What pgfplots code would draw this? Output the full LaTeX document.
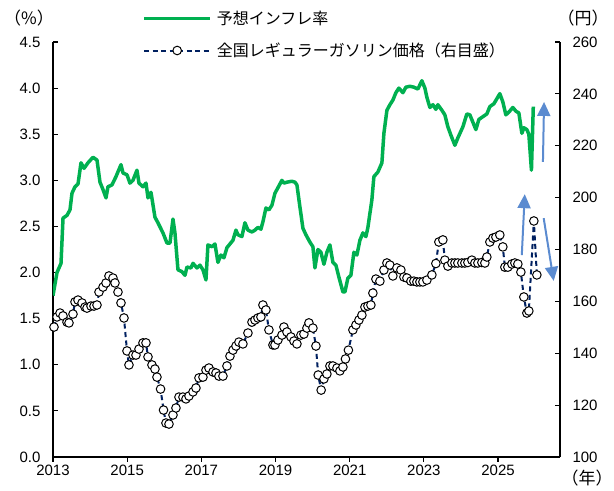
\documentclass[border=0pt]{standalone}
\usepackage{fontspec}
\setmainfont{Liberation Sans}
\newfontfamily\jp{Noto Sans CJK JP}
\usepackage{pgfplots}
\pgfplotsset{compat=1.18}
\usetikzlibrary{arrows.meta}

\definecolor{infl}{HTML}{00B050}
\definecolor{gas}{HTML}{002060}
\definecolor{arr}{HTML}{5B8BD0}

% expected inflation (%), left axis
\pgfplotstableread{
x y
2013.000 1.75
2013.108 2.00
2013.216 2.10
2013.270 2.59
2013.377 2.62
2013.458 2.68
2013.512 2.86
2013.593 2.93
2013.674 2.96
2013.755 3.19
2013.836 3.13
2013.943 3.19
2014.078 3.25
2014.186 3.22
2014.267 2.98
2014.348 2.90
2014.429 2.81
2014.482 2.93
2014.590 2.95
2014.698 3.04
2014.833 3.17
2014.887 3.08
2014.995 3.06
2015.075 2.97
2015.156 3.00
2015.264 3.11
2015.318 2.97
2015.426 2.93
2015.507 2.97
2015.561 2.81
2015.642 2.87
2015.749 2.60
2015.830 2.54
2015.965 2.43
2016.073 2.32
2016.154 2.32
2016.235 2.58
2016.288 2.43
2016.369 2.03
2016.477 2.01
2016.558 1.97
2016.612 2.06
2016.720 2.05
2016.774 2.10
2016.881 2.05
2016.962 2.08
2017.043 2.03
2017.124 1.92
2017.178 2.30
2017.286 2.28
2017.367 2.31
2017.447 2.11
2017.528 2.19
2017.609 2.16
2017.690 2.27
2017.771 2.31
2017.852 2.35
2017.933 2.46
2017.986 2.41
2018.094 2.39
2018.175 2.54
2018.256 2.46
2018.364 2.44
2018.445 2.46
2018.526 2.49
2018.606 2.47
2018.660 2.55
2018.741 2.70
2018.822 2.68
2018.903 2.73
2018.984 2.86
2019.065 2.92
2019.172 3.00
2019.226 2.97
2019.307 2.98
2019.442 2.99
2019.523 2.98
2019.577 2.95
2019.658 2.71
2019.739 2.48
2019.819 2.41
2019.927 2.33
2020.008 2.28
2020.062 2.05
2020.143 2.25
2020.224 2.22
2020.305 2.09
2020.385 2.22
2020.466 2.30
2020.547 2.11
2020.628 2.08
2020.709 1.95
2020.817 1.79
2020.871 1.79
2020.951 1.94
2021.032 1.97
2021.113 2.22
2021.194 2.19
2021.275 2.35
2021.356 2.43
2021.437 2.39
2021.491 2.49
2021.598 2.79
2021.652 3.04
2021.760 3.09
2021.868 3.19
2021.922 3.51
2022.003 3.76
2022.084 3.82
2022.164 3.87
2022.245 3.95
2022.326 4.00
2022.434 3.95
2022.515 4.01
2022.623 4.02
2022.730 4.01
2022.838 3.99
2022.946 4.08
2023.027 4.00
2023.081 3.90
2023.162 3.79
2023.243 3.82
2023.323 3.77
2023.377 3.82
2023.485 3.76
2023.566 3.71
2023.647 3.58
2023.728 3.49
2023.836 3.38
2023.916 3.46
2024.051 3.58
2024.159 3.72
2024.240 3.71
2024.321 3.63
2024.402 3.55
2024.482 3.66
2024.590 3.69
2024.698 3.72
2024.779 3.80
2024.887 3.83
2025.048 3.94
2025.129 3.85
2025.210 3.71
2025.291 3.74
2025.399 3.79
2025.480 3.75
2025.561 3.73
2025.642 3.51
2025.695 3.57
2025.776 3.55
2025.830 3.50
2025.900 3.11
2025.950 3.80
}\inflation

% regular gasoline price (yen), right axis
\pgfplotstableread{
x y
2013.027 150.1
2013.108 154.0
2013.189 155.5
2013.270 154.4
2013.377 152.0
2013.431 151.7
2013.539 155.1
2013.593 159.8
2013.674 160.5
2013.782 159.4
2013.863 157.8
2013.916 157.4
2014.024 158.2
2014.105 158.2
2014.186 158.6
2014.240 163.6
2014.348 165.5
2014.429 167.1
2014.509 169.8
2014.617 169.0
2014.671 167.1
2014.752 163.6
2014.833 159.4
2014.914 153.6
2014.995 140.9
2015.048 135.5
2015.156 139.3
2015.237 139.3
2015.318 141.6
2015.426 144.0
2015.507 144.0
2015.561 138.6
2015.668 135.5
2015.749 133.9
2015.803 130.8
2015.900 126.2
2015.980 118.1
2016.046 113.1
2016.127 112.7
2016.235 116.2
2016.315 118.9
2016.396 123.1
2016.504 123.1
2016.585 122.4
2016.666 123.5
2016.774 125.1
2016.854 126.6
2016.935 130.5
2017.043 130.8
2017.124 133.5
2017.205 134.3
2017.313 132.8
2017.394 132.4
2017.474 131.2
2017.582 131.2
2017.690 135.1
2017.771 138.9
2017.852 141.2
2017.933 142.8
2018.013 144.3
2018.121 143.6
2018.256 147.8
2018.364 152.0
2018.445 152.8
2018.526 153.6
2018.606 154.0
2018.660 158.6
2018.741 156.7
2018.822 149.0
2018.930 143.2
2018.984 143.2
2019.065 145.1
2019.172 147.0
2019.226 150.1
2019.307 148.2
2019.415 146.3
2019.496 144.7
2019.577 143.6
2019.685 147.0
2019.765 147.4
2019.846 149.7
2019.900 151.7
2020.008 149.7
2020.089 142.8
2020.150 131.6
2020.230 125.8
2020.305 130.1
2020.385 132.0
2020.466 135.1
2020.547 135.1
2020.655 134.3
2020.736 133.2
2020.817 134.7
2020.885 137.8
2020.965 141.2
2021.086 149.0
2021.167 150.9
2021.248 152.8
2021.329 154.7
2021.410 157.8
2021.491 158.2
2021.571 158.6
2021.625 163.2
2021.706 168.6
2021.814 167.8
2021.922 172.1
2022.003 174.8
2022.084 174.0
2022.164 169.8
2022.272 172.9
2022.380 172.1
2022.461 169.4
2022.542 169.0
2022.650 167.8
2022.730 167.8
2022.811 167.5
2022.892 167.5
2022.973 167.5
2023.081 168.2
2023.216 170.2
2023.323 174.6
2023.404 182.9
2023.512 183.7
2023.566 175.9
2023.647 173.6
2023.755 174.8
2023.836 174.8
2023.916 174.8
2024.024 174.8
2024.105 174.8
2024.186 175.0
2024.294 175.9
2024.375 174.8
2024.456 174.8
2024.563 175.0
2024.644 174.8
2024.698 177.1
2024.779 182.9
2024.860 184.4
2024.941 184.8
2025.048 185.6
2025.129 181.0
2025.183 173.2
2025.264 173.2
2025.372 174.4
2025.453 174.8
2025.534 174.4
2025.615 171.3
2025.695 161.7
2025.776 155.5
2025.830 156.3
2025.965 191.0
2026.046 170.2
}\gasoline

\pgfplotsset{
  base/.style={scale only axis, width=507bp, height=415bp,
    xmin=2013, xmax=2026.67,
    axis line style={line width=1.5bp, black},
    major tick length=5bp,
    tick style={line width=1.2bp, black},
    /pgf/number format/assume math mode=true,
    tick label style={font=\fontsize{15bp}{18bp}\selectfont}},
}

\begin{document}
\begin{tikzpicture}
\useasboundingbox (-53bp,-34bp) rectangle (561bp,457bp);

% left axis: expected inflation
\begin{axis}[base, ymin=0, ymax=4.5,
  ytick={0,0.5,1,1.5,2,2.5,3,3.5,4,4.5},
  axis y line*=left, axis x line=none, tick align=inside,
  yticklabel style={/pgf/number format/.cd, fixed, fixed zerofill, precision=1, /tikz/.cd, xshift=-9bp}]
\addplot[infl, line width=3.5bp, line join=round] table {\inflation};
\draw[arr, line width=2bp, -{Triangle[width=13bp,length=14bp]}] (axis cs:2026.21,3.20) -- (axis cs:2026.24,3.85);
\draw[arr, line width=2bp, -{Triangle[width=13bp,length=14bp]}] (axis cs:2025.64,2.19) -- (axis cs:2025.72,2.85);
\draw[arr, line width=2bp, -{Triangle[width=13bp,length=14bp]}] (axis cs:2026.23,2.59) -- (axis cs:2026.50,1.91);
\end{axis}

% bottom axis: years
\begin{axis}[base, ymin=0, ymax=1,
  axis x line*=bottom, axis y line=none, tick align=outside,
  xtick={2013,2015,2017,2019,2021,2023,2025},
  xticklabel style={/pgf/number format/1000 sep={}}]
\end{axis}

% right axis: gasoline price
\begin{axis}[base, ymin=100, ymax=260,
  ytick={100,120,140,160,180,200,220,240,260},
  axis y line*=right, axis x line=none, tick align=inside,
  yticklabel style={xshift=9bp},
  legend image code/.code={\draw[mark repeat=2,mark phase=2,#1] plot coordinates {(0bp,0bp) (33bp,0bp) (66bp,0bp)};},
  legend style={at={(axis description cs:0.176,1.08)}, anchor=north west,
    draw=none, fill=none, inner sep=0pt, row sep=13bp,
    nodes={inner xsep=5bp},
    font=\jp\fontsize{16bp}{19bp}\selectfont},
  legend cell align=left]
\addlegendimage{infl, line width=3.5bp}
\addlegendentry{予想インフレ率}
\addplot[gas, line width=2bp, dash pattern=on 5bp off 3.5bp,
  mark=*, mark size=4.3bp, mark options={solid, fill=white, draw=black, line width=1bp}] table {\gasoline};
\addlegendentry{全国レギュラーガソリン価格（右目盛）}
\end{axis}

\node[font=\jp\fontsize{17bp}{19bp}\selectfont] at (-24bp,439bp) {（\%）};
\node[font=\jp\fontsize{17bp}{19bp}\selectfont] at (530bp,439bp) {（円）};
\node[font=\jp\fontsize{17bp}{19bp}\selectfont] at (534bp,-21bp) {（年）};
\end{tikzpicture}
\end{document}
